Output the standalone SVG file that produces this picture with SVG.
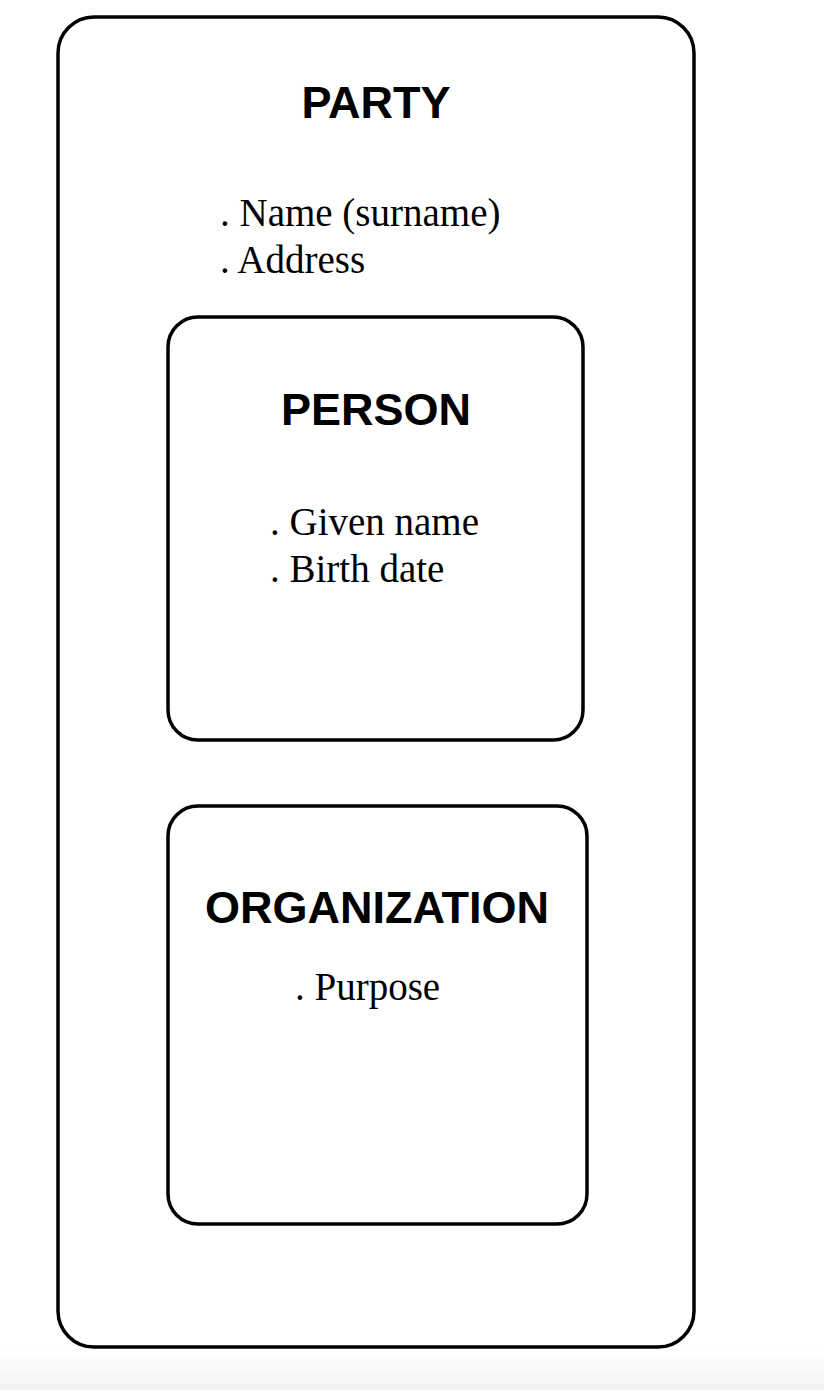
<svg xmlns="http://www.w3.org/2000/svg" width="824" height="1390" viewBox="0 0 824 1390">
<style>
.box{fill:none;stroke:#000;stroke-width:3.5}
.title{font-family:"Liberation Sans",Arial,sans-serif;font-weight:bold;font-size:45px;fill:#000;text-anchor:middle}
.attr{font-family:"Liberation Serif","Times New Roman",serif;font-size:39px;fill:#000}
</style>
<defs>
<linearGradient id="fade" x1="0" y1="0" x2="0" y2="1">
<stop offset="0" stop-color="#ffffff"/>
<stop offset="1" stop-color="#f2f2f2"/>
</linearGradient>
</defs>
<rect x="0" y="0" width="824" height="1390" fill="#fff"/>
<rect x="0" y="1350" width="824" height="40" fill="url(#fade)"/>
<g id="party">
<rect class="box" x="58" y="17" width="636" height="1330" rx="36" ry="36"/>
<text class="title" x="376" y="118">PARTY</text>
<text class="attr" x="220" y="226">. Name (surname)</text>
<text class="attr" x="220" y="273">. Address</text>
</g>
<g id="person">
<rect class="box" x="168" y="317" width="415" height="423" rx="30" ry="30"/>
<text class="title" x="376" y="425">PERSON</text>
<text class="attr" x="270" y="535">. Given name</text>
<text class="attr" x="270" y="582">. Birth date</text>
</g>
<g id="organization">
<rect class="box" x="168" y="806" width="419" height="418" rx="30" ry="30"/>
<text class="title" x="377" y="923">ORGANIZATION</text>
<text class="attr" x="295" y="1000">. Purpose</text>
</g>
<g id="connectors"></g>
</svg>
